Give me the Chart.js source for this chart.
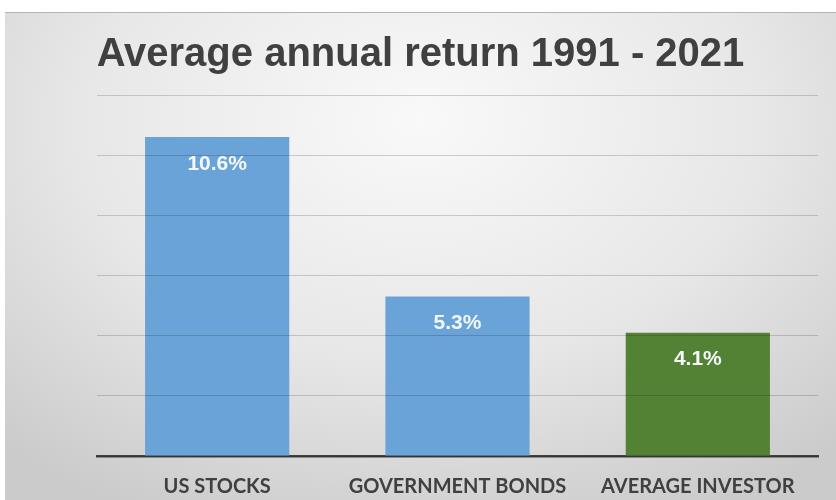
<!DOCTYPE html>
<html>
<head>
<meta charset="utf-8">
<script src="https://cdn.jsdelivr.net/npm/chart.js@4"></script>
<style>
    body { margin: 0; background: #ffffff; }
    #card {
        position: absolute;
        left: 5px;
        top: 12px;
        width: 831px;
        height: 488px;
        border-top: 1px solid #b4b4b4;
        box-sizing: border-box;
        background: radial-gradient(ellipse 75% 90% at 50% 22%, #f9f9f9 0%, #e7e7e7 55%, #cbcbcb 100%);
    }
    #returnChart { display: block; }
</style>
</head>
<body>
<div id="card">
    <canvas id="returnChart" width="831" height="487"></canvas>
</div>
<script>
let categories = ['US STOCKS', 'GOVERNMENT BONDS', 'AVERAGE INVESTOR'];
let returns = [10.6, 5.3, 4.1];
let barColors = ['#6aa3d7', '#6aa3d7', '#548235'];
let yTicks = [0, 2, 4, 6, 8, 10, 12];

// Draw the percentage labels inside the top of each bar
const barLabels = {
    id: 'barLabels',
    afterDatasetsDraw(chart) {
        const ctx = chart.ctx;
        const meta = chart.getDatasetMeta(0);
        ctx.save();
        ctx.font = 'bold 21px "Liberation Sans", Arial, sans-serif';
        ctx.fillStyle = '#f4f7fb';
        ctx.textAlign = 'center';
        ctx.textBaseline = 'middle';
        meta.data.forEach((bar, i) => {
            ctx.fillText(returns[i].toFixed(1) + '%', bar.x, bar.y + 27);
        });
        ctx.restore();
    }
};

let ctx = document.getElementById('returnChart').getContext('2d');
let returnChart = new Chart(ctx, {
    type: 'bar',
    data: {
        labels: categories,
        datasets: [{
            data: returns,
            backgroundColor: barColors,
            barPercentage: 0.6,
            categoryPercentage: 1.0
        }]
    },
    options: {
        responsive: false,
        animation: false,
        layout: {
            padding: { left: 18, right: 18, top: 0, bottom: 0 }
        },
        plugins: {
            legend: { display: false },
            tooltip: { enabled: false },
            title: {
                display: true,
                text: 'Average annual return 1991 - 2021',
                color: '#404040',
                font: { family: '"Liberation Sans", Arial, sans-serif', size: 40, weight: 'bold' },
                padding: { top: 18, bottom: 16 }
            }
        },
        scales: {
            x: {
                afterFit: (axis) => { axis.height = 44; },
                grid: { display: false, drawTicks: false },
                border: { display: true, color: '#404040', width: 2.5 },
                ticks: {
                    color: '#404040',
                    padding: 19,
                    font: { family: 'Lato, "Open Sans", sans-serif', size: 20, weight: 'bold' }
                }
            },
            y: {
                min: yTicks[0],
                max: yTicks[yTicks.length - 1],
                afterFit: (axis) => { axis.width = 74; },
                afterBuildTicks: (axis) => {
                    axis.ticks = yTicks.map(v => ({ value: v }));
                },
                grid: { color: 'rgba(0, 0, 0, 0.17)', lineWidth: 1, drawTicks: false, z: 1 },
                border: { display: false },
                ticks: { display: false }
            }
        }
    },
    plugins: [barLabels]
});
</script>
</body>
</html>
